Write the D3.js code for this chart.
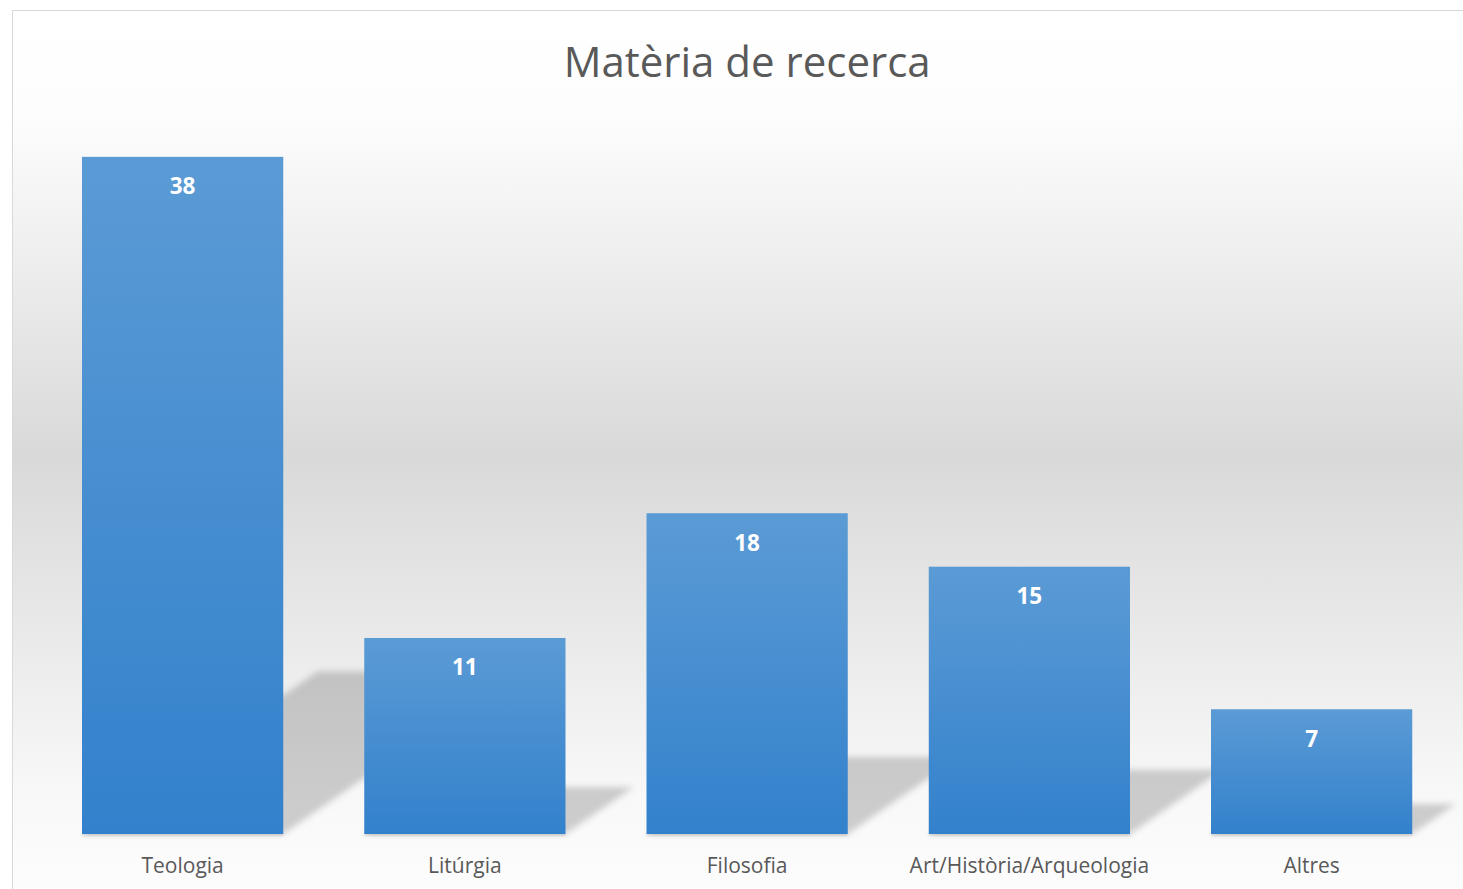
<!DOCTYPE html>
<html>
<head>
<meta charset="utf-8">
<script src="https://cdn.jsdelivr.net/npm/d3@7"></script>
<style>
  html, body { margin: 0; padding: 0; background: #ffffff; }
  svg { display: block; }
</style>
</head>
<body>
<svg id="chart" width="1463" height="889"></svg>
<script>
const title = "Matèria de recerca";
const categories = ["Teologia", "Litúrgia", "Filosofia", "Art/Història/Arqueologia", "Altres"];
const values = [38, 11, 18, 15, 7];
const yMax = 40;

const W = 1463, H = 889;
const svg = d3.select("#chart");
const defs = svg.append("defs");

// background gradient
const bg = defs.append("linearGradient").attr("id", "bgGrad")
  .attr("x1", 0).attr("y1", 0).attr("x2", 0).attr("y2", 1);
[[0, "#ffffff"], [0.12, "#fdfdfd"], [0.5, "#d9d9d9"], [0.88, "#f8f8f8"], [1, "#fdfdfd"]]
  .forEach(([o, c]) => bg.append("stop").attr("offset", o).attr("stop-color", c));

// bar gradient
const bgBar = defs.append("linearGradient").attr("id", "barGrad")
  .attr("x1", 0).attr("y1", 0).attr("x2", 0).attr("y2", 1);
[[0, "#5b9bd5"], [1, "#3381cc"]]
  .forEach(([o, c]) => bgBar.append("stop").attr("offset", o).attr("stop-color", c));

const blur = defs.append("filter").attr("id", "blur")
  .attr("x", "-20%").attr("y", "-20%").attr("width", "140%").attr("height", "140%");
blur.append("feGaussianBlur").attr("stdDeviation", 3);

const blurSmall = defs.append("filter").attr("id", "blurSmall")
  .attr("x", "-5%").attr("y", "-200%").attr("width", "110%").attr("height", "500%");
blurSmall.append("feGaussianBlur").attr("stdDeviation", 1);

// frame
svg.append("rect")
  .attr("x", 12.5).attr("y", 10.5)
  .attr("width", W).attr("height", H)
  .attr("fill", "url(#bgGrad)")
  .attr("stroke", "#d9d9d9").attr("stroke-width", 1);

// scales
const x = d3.scaleBand()
  .domain(categories)
  .range([41.5, 1452.75])
  .paddingInner(0.287)
  .paddingOuter(0.1435);

const base = 834;
const y = d3.scaleLinear().domain([0, yMax]).range([base, base - yMax * 17.82]);

const data = categories.map((c, i) => ({ cat: c, val: values[i] }));

// perspective shadows
const shadowG = svg.append("g").attr("filter", "url(#blur)");
shadowG.selectAll("polygon").data(data).join("polygon")
  .attr("points", d => {
    const x0 = x(d.cat), x1 = x(d.cat) + x.bandwidth();
    const h = y(0) - y(d.val);
    const sh = 0.24 * h, dx = 1.45 * sh;
    return [[x0, y(0)], [x1, y(0)], [x1 + dx, y(0) - sh], [x0 + dx, y(0) - sh]]
      .map(p => p.join(",")).join(" ");
  })
  .attr("fill", "#000").attr("fill-opacity", 0.18);

// slight base shadow
svg.append("g").attr("filter", "url(#blurSmall)")
  .selectAll("rect").data(data).join("rect")
  .attr("x", d => x(d.cat)).attr("y", y(0) - 1)
  .attr("width", x.bandwidth()).attr("height", 3)
  .attr("fill", "#000").attr("fill-opacity", 0.12);

// bars
svg.append("g").selectAll("rect").data(data).join("rect")
  .attr("x", d => x(d.cat))
  .attr("y", d => y(d.val))
  .attr("width", x.bandwidth())
  .attr("height", d => y(0) - y(d.val))
  .attr("fill", "url(#barGrad)");

// value labels
svg.append("g").selectAll("text").data(data).join("text")
  .attr("x", d => x(d.cat) + x.bandwidth() / 2)
  .attr("y", d => y(d.val) + 37.5)
  .attr("text-anchor", "middle")
  .attr("font-family", "'Open Sans', 'Noto Sans', sans-serif")
  .attr("font-weight", "bold")
  .attr("font-size", 22.5)
  .attr("fill", "#ffffff")
  .text(d => d.val);

// category axis labels
const xAxis = d3.axisBottom(x).tickSize(0).tickPadding(0);
const axG = svg.append("g").attr("transform", `translate(0,${base})`).call(xAxis);
axG.select(".domain").remove();
axG.selectAll("text")
  .attr("dy", null)
  .attr("y", 39)
  .attr("font-family", "'Open Sans', 'Noto Sans', sans-serif")
  .attr("font-size", 21)
  .attr("fill", "#595959");

// title
svg.append("text")
  .attr("x", (x.range()[0] + x.range()[1]) / 2)
  .attr("y", 77)
  .attr("text-anchor", "middle")
  .attr("font-family", "'Open Sans', 'Noto Sans', sans-serif")
  .attr("font-size", 42)
  .attr("fill", "#595959")
  .text(title);
</script>
</body>
</html>
